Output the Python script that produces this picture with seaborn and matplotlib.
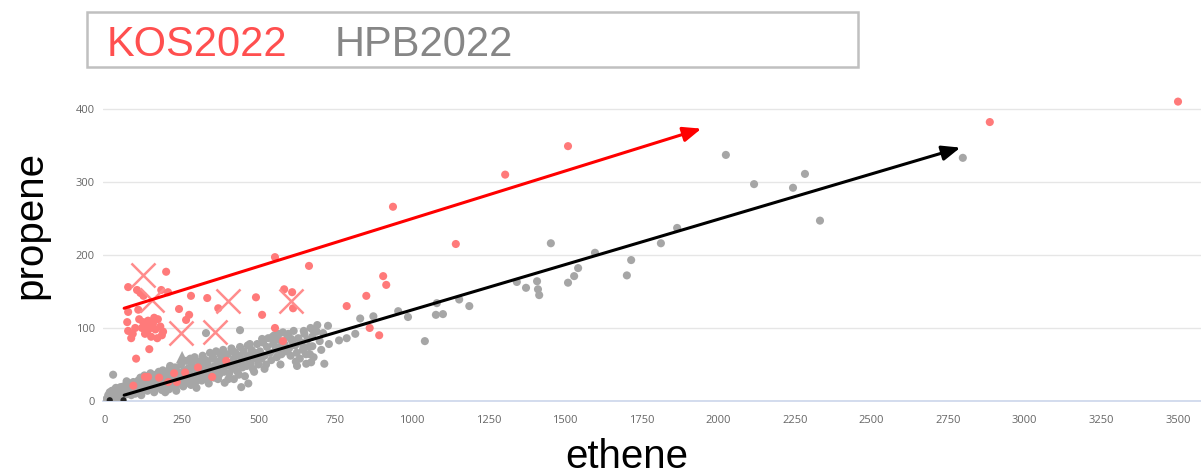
import numpy as np
import pandas as pd
import seaborn as sns
import matplotlib.pyplot as plt
from matplotlib.patches import Rectangle

# KOS2022 (red) points: ethene, propene
kos_x = [3500, 2886, 1510, 1305, 939, 1144, 554, 665, 907, 917, 852, 788, 863, 894, 580, 554,
         199, 75, 104, 115, 125, 183, 205, 280, 333, 492, 584, 610, 613, 512, 369, 241, 264, 274,
         75, 72, 108, 111, 124, 132, 140, 148, 156, 164, 172, 180, 189, 130, 150, 170, 185, 75,
         85, 98, 90, 144, 101, 120, 138, 160,
         92, 130, 140, 176, 206, 225, 261, 303, 349, 395, 234]
kos_y = [410, 382, 349, 310, 266, 215, 197, 185, 171, 159, 144, 130, 100, 90, 82, 100,
         177, 156, 152, 148, 144, 152, 149, 144, 141, 142, 153, 149, 127, 118, 127, 126, 111, 118,
         122, 108, 125, 112, 108, 104, 110, 100, 106, 98, 112, 102, 95, 92, 88, 86, 90, 96,
         86, 100, 92, 71, 58, 100, 96, 114,
         21, 33, 33, 32, 26, 38, 39, 46, 33, 55, 26]

# KOS2022 samples drawn as crosses
kos_cross_x = [124, 153, 401, 607, 248, 359]
kos_cross_y = [173, 138, 137, 137, 93, 95]

# HPB2022 (grey) points
hpb_x = [5, 10, 12, 15, 18, 20, 22, 25, 28, 30, 32, 35, 38, 40, 42, 45, 48, 50, 52, 55, 58, 60,
         62, 65, 68, 70, 72, 75, 78, 80, 82, 85, 88, 90, 92, 95, 98, 100, 26,
         105, 108, 110, 115, 118, 120, 125, 128, 130, 135, 138, 140, 145, 148, 150, 155, 158, 160,
         165, 168, 170, 175, 178, 180, 185, 188, 190, 195, 198, 200, 205, 208, 210, 215, 218, 220,
         225, 228, 230, 235, 238, 240, 245, 248, 250,
         255, 258, 262, 265, 268, 272, 275, 280, 282, 285, 290, 292, 295, 300, 305, 308, 312, 315,
         318, 322, 325, 328, 332, 335, 340, 342, 345, 350, 355, 358, 362, 365, 370, 372, 378, 380,
         385, 388, 392, 395, 400, 405, 408, 412, 415, 420, 425, 428, 432, 438, 440, 445, 448, 452,
         458, 462, 465, 470, 475, 478, 482, 488, 492, 496, 500, 444, 467, 420, 390,
         505, 510, 515, 520, 525, 528, 532, 538, 542, 548, 552, 556, 560, 565, 570, 575, 580, 585,
         590, 595, 600, 605, 610, 615, 620, 625, 630, 635, 640, 645, 650, 655, 660, 665, 670, 675,
         680, 690, 700,
         329, 440, 512, 567, 551, 607, 626, 672, 656, 715, 705, 676, 730, 763, 788, 816, 832, 875,
         727, 711, 676, 685, 647, 956, 988, 1079, 1102, 1082, 1043, 1155, 1188,
         1343, 1373, 1409, 1412, 1416, 1454, 1510, 1530, 1543, 1598, 1702, 1716, 1813, 1866,
         2025, 2117, 2244, 2283, 2332, 2798,
         35, 55, 70, 118, 135, 160, 172, 196, 212, 232, 262, 278, 298, 310, 338, 352, 368, 384,
         402, 418, 436, 456, 472, 486, 520, 546, 572, 598, 622, 648, 668, 692]
hpb_y = [3, 8, 2, 12, 5, 10, 14, 4, 9, 15, 6, 11, 3, 17, 8, 13, 5, 19, 10, 15, 7, 20,
         12, 17, 9, 22, 14, 19, 11, 24, 16, 8, 21, 13, 26, 18, 10, 23, 36,
         15, 28, 20, 32, 12, 25, 18, 35, 22, 28, 14, 32, 20, 38, 26, 16, 30, 22,
         36, 18, 28, 40, 24, 32, 15, 42, 26, 34, 20, 38, 28, 16, 44, 30, 22, 36,
         26, 46, 18, 32, 40, 24, 34, 50, 28,
         20, 42, 35, 55, 28, 45, 38, 22, 52, 32, 46, 60, 26, 40, 54, 34, 48, 28,
         62, 42, 36, 56, 30, 50, 44, 66, 38, 58, 32, 48, 68, 42, 54, 36, 62, 46,
         70, 40, 56, 48, 64, 38, 52, 72, 44, 58, 66, 50, 40, 62, 74, 54, 46, 68,
         58, 48, 76, 62, 52, 70, 44, 66, 58, 78, 50, 19, 24, 30, 25,
         68, 58, 80, 62, 50, 74, 86, 66, 56, 78, 90, 70, 60, 84, 74, 64, 94, 78,
         68, 88, 72, 62, 82, 96, 76, 66, 86, 58, 80, 70, 92, 64, 84, 74, 100, 88,
         60, 95, 82,
         93, 97, 85, 92, 82, 85, 48, 53, 51, 51, 70, 75, 78, 83, 86, 92, 113, 116,
         103, 93, 98, 95, 74, 123, 115, 118, 119, 134, 82, 139, 130,
         163, 155, 164, 153, 145, 216, 162, 171, 182, 203, 172, 193, 216, 237,
         337, 297, 292, 311, 247, 333,
         18, 4, 27, 8, 30, 12, 34, 12, 48, 14, 24, 58, 18, 52, 24, 60, 30, 52,
         30, 68, 36, 34, 78, 40, 44, 88, 50, 92, 54, 96, 64, 104]

# HPB2022 samples drawn as triangles
hpb_tri_x = [251, 280]
hpb_tri_y = [60, 49]

# dark points at the origin
dark_x = [15, 60]
dark_y = [1, 1]

# trend arrows (start, end)
red_arrow = [(62, 127), (1945, 373)]
black_arrow = [(62, 8), (2790, 347)]

x_ticks = [0, 250, 500, 750, 1000, 1250, 1500, 1750, 2000, 2250, 2500, 2750, 3000, 3250, 3500]
y_ticks = [0, 100, 200, 300, 400]

sns.set_style("white")
plt.rcParams['font.family'] = ['Liberation Sans', 'DejaVu Sans']

fig = plt.figure(figsize=(12.01, 4.75), dpi=100)
ax = fig.add_axes([103 / 1201, (475 - 401) / 475, 1098 / 1201, 314 / 475])

grey = "#a6a6a6"
red = "#ff7a7a"

sns.scatterplot(x=hpb_x, y=hpb_y, color=grey, s=34, edgecolor="none", ax=ax, zorder=3)
sns.scatterplot(x=hpb_tri_x, y=hpb_tri_y, color=grey, marker="^", s=80, edgecolor="none",
                ax=ax, zorder=3)
sns.scatterplot(x=dark_x, y=dark_y, color="#222222", s=20, edgecolor="none", ax=ax, zorder=3)
sns.scatterplot(x=kos_x, y=kos_y, color=red, s=34, edgecolor="none", ax=ax, zorder=4)
ax.scatter(kos_cross_x, kos_cross_y, marker="x", s=300, color="#ff8c8c", linewidths=1.8,
           zorder=5)

ax.annotate("", xy=red_arrow[1], xytext=red_arrow[0],
            arrowprops=dict(arrowstyle="-|>,head_length=1.1,head_width=0.45", color="#ff0000",
                            lw=2.2, shrinkA=0, shrinkB=0), zorder=6)
ax.annotate("", xy=black_arrow[1], xytext=black_arrow[0],
            arrowprops=dict(arrowstyle="-|>,head_length=1.1,head_width=0.45", color="black",
                            lw=2.2, shrinkA=0, shrinkB=0), zorder=6)

ax.set_xlim(-7, 3575)
ax.set_ylim(0, 430)
ax.set_xticks(x_ticks)
ax.set_yticks(y_ticks)
ax.grid(axis="y", color="#e6e6e6", lw=1)
ax.set_axisbelow(True)
for side in ["top", "right", "left"]:
    ax.spines[side].set_visible(False)
ax.spines["bottom"].set_color("#ccd6eb")
ax.spines["bottom"].set_linewidth(1.2)
ax.tick_params(axis="x", colors="#ccd6eb", length=8, width=1, direction="out", pad=2)
ax.tick_params(axis="y", length=0, pad=6)
for lab in ax.get_xticklabels() + ax.get_yticklabels():
    lab.set_color("#666666")
    lab.set_fontsize(8)
    lab.set_fontfamily(["Open Sans", "DejaVu Sans"])
ax.set_xlabel("")
ax.set_ylabel("")

fig.text(30 / 1201, 1 - 225 / 475, "propene", rotation=90, fontsize=29, ha="center",
         va="center", color="black")
fig.text(627 / 1201, 1 - 457 / 475, "ethene", fontsize=29, ha="center", va="center",
         color="black")

# legend-like header box
fig.patches.append(Rectangle((87 / 1201, 1 - 67 / 475), 771 / 1201, 55 / 475,
                             transform=fig.transFigure, fill=False, edgecolor="#c0c0c0",
                             lw=1.8))
fig.text(107 / 1201, 1 - 56 / 475, "KOS2022", fontsize=30, color="#ff4f4f", ha="left",
         va="baseline")
fig.text(335 / 1201, 1 - 56 / 475, "HPB2022", fontsize=30, color="#868686", ha="left",
         va="baseline")

fig.savefig("out.png", dpi=100)
